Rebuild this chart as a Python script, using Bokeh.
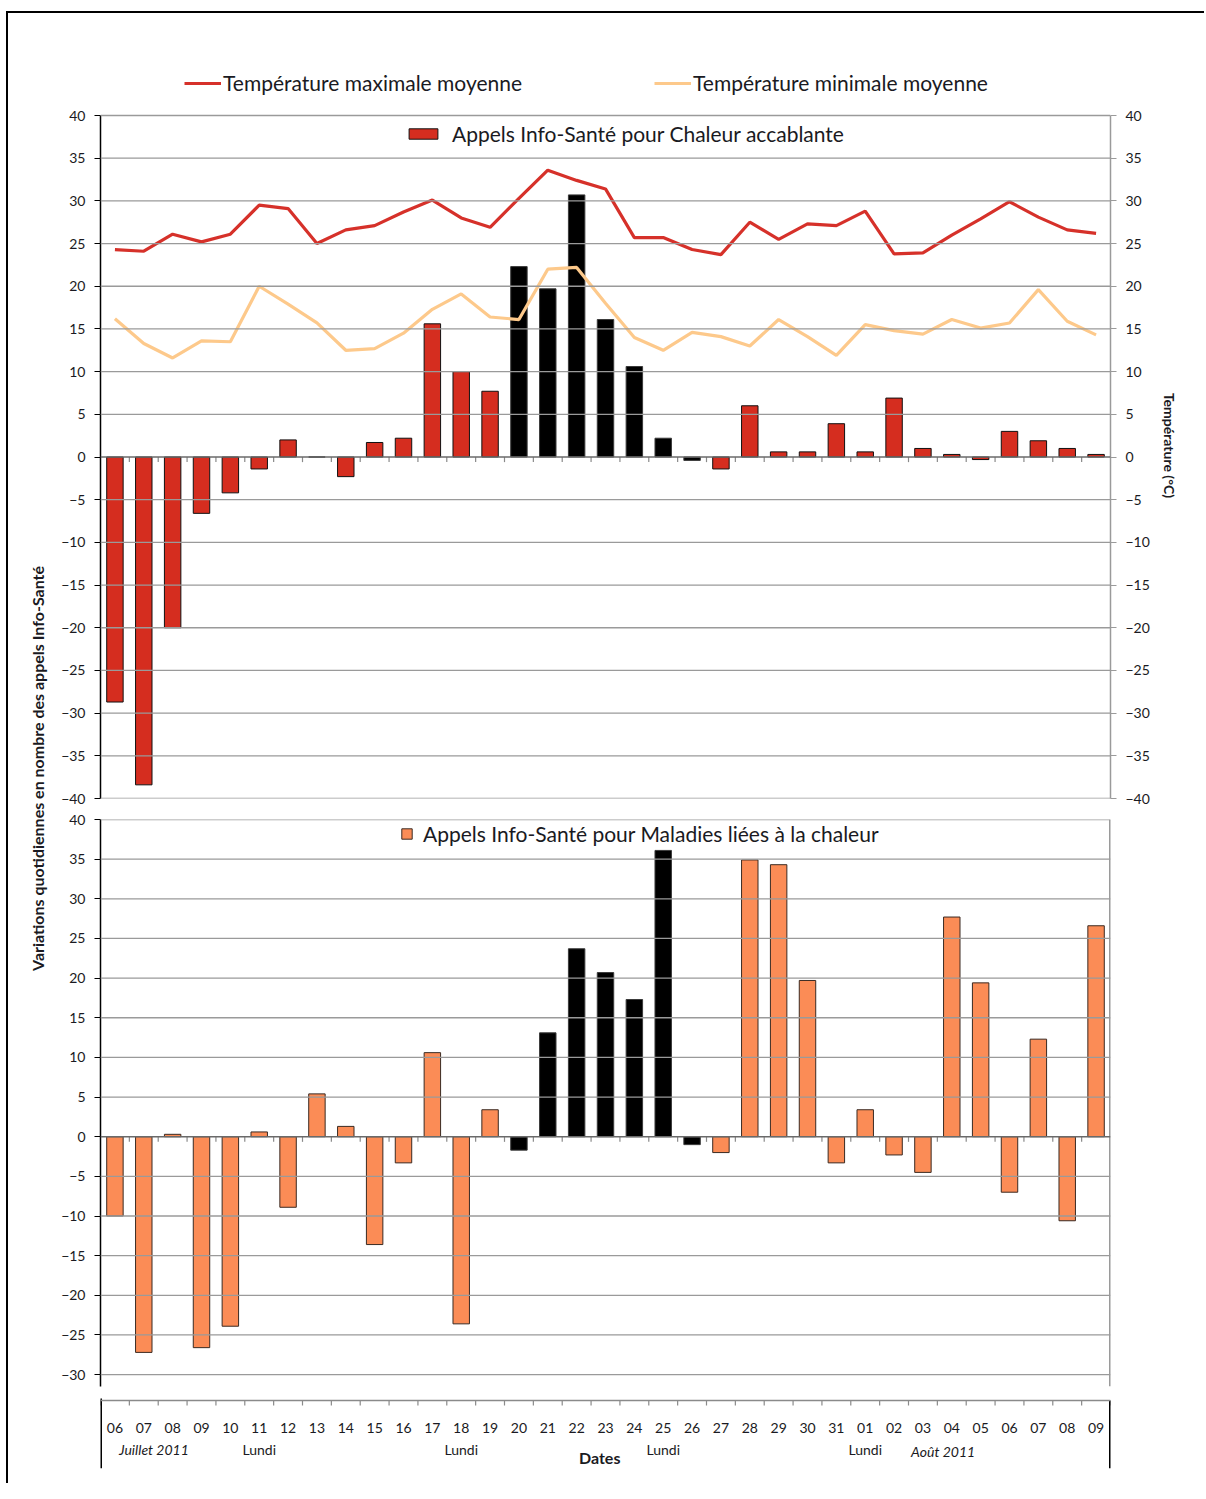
import numpy as np
from bokeh.plotting import figure
from bokeh.models import (ColumnDataSource, Range1d, LinearAxis, Legend, LegendItem,
                          FixedTicker, Label, Span)
from bokeh.layouts import column, row
from bokeh.embed import file_html
from bokeh.resources import INLINE
from bokeh.core.properties import value

# ---------------- data ----------------
days = ["06", "07", "08", "09", "10", "11", "12", "13", "14", "15", "16", "17", "18",
        "19", "20", "21", "22", "23", "24", "25", "26", "27", "28", "29", "30", "31",
        "01", "02", "03", "04", "05", "06", "07", "08", "09"]
months = ["Juillet"] * 26 + ["Août"] * 9
episode = [("Juillet", d) for d in ["20", "21", "22", "23", "24", "25", "26"]]
lundis = [("Juillet", "11"), ("Juillet", "18"), ("Juillet", "25"), ("Août", "01")]

chaleur = [-28.7, -38.4, -20.0, -6.6, -4.2, -1.4, 2.0, 0.0, -2.3, 1.7, 2.2, 15.6, 10.0,
           7.7, 22.3, 19.7, 30.7, 16.1, 10.6, 2.2, -0.4, -1.4, 6.0, 0.6, 0.6, 3.9,
           0.6, 6.9, 1.0, 0.3, -0.3, 3.0, 1.9, 1.0, 0.3]
maladies = [-10.0, -27.2, 0.3, -26.6, -23.9, 0.6, -8.9, 5.4, 1.3, -13.6, -3.3, 10.6, -23.6,
            3.4, -1.7, 13.1, 23.7, 20.7, 17.3, 36.1, -1.0, -2.0, 34.9, 34.3, 19.7, -3.3,
            3.4, -2.3, -4.5, 27.7, 19.4, -7.0, 12.3, -10.6, 26.6]
tmax = [24.3, 24.1, 26.1, 25.2, 26.1, 29.5, 29.1, 25.0, 26.6, 27.1, 28.7, 30.1, 28.0,
        26.9, 30.3, 33.6, 32.4, 31.4, 25.7, 25.7, 24.3, 23.7, 27.5, 25.5, 27.3, 27.1,
        28.8, 23.8, 23.9, 26.0, 27.9, 29.9, 28.1, 26.6, 26.2]
tmin = [16.2, 13.3, 11.6, 13.6, 13.5, 20.0, 17.9, 15.7, 12.5, 12.7, 14.5, 17.3, 19.1,
        16.4, 16.1, 22.0, 22.2, 18.0, 14.0, 12.5, 14.6, 14.1, 13.0, 16.1, 14.1, 11.9,
        15.5, 14.8, 14.4, 16.1, 15.1, 15.7, 19.6, 15.9, 14.3]

top_ticks = list(range(-40, 41, 5))
bot_ticks = list(range(-30, 41, 5))

# ---------------- styles ----------------
FONT = "Lato"
RED = "#d52d1f"
RED_LINE = "#d6312a"
ORANGE_LINE = "#fdc98b"
ORANGE_BAR = "#fb8c56"
GRID = "#9a9a9a"
TXT = "#1a1a22"

idx = np.arange(len(days))
is_ep = np.array([(m, d) in episode for m, d in zip(months, days)])
ML, MR = 41, 50
W = ML + 1011 + MR
XR = (-0.5, len(days) - 0.5)


def base_fig(height, top_b, bot_b, y0, y1):
    p = figure(width=W, height=height, x_range=Range1d(*XR), y_range=Range1d(y0, y1),
               output_backend="svg", toolbar_location=None,
               x_axis_location=None, y_axis_location=None,
               min_border_left=ML, min_border_right=MR,
               min_border_top=top_b, min_border_bottom=bot_b)
    p.outline_line_color = None
    p.xgrid.visible = False
    p.ygrid.visible = False
    p.background_fill_color = "white"
    p.border_fill_color = "white"
    return p


def style_axis(ax, ticks, color, label_size="14px"):
    ax.ticker = FixedTicker(ticks=ticks)
    ax.bounds = (min(ticks), max(ticks))
    ax.axis_line_color = color
    ax.axis_line_width = 1.5
    ax.major_tick_line_color = color
    ax.major_tick_line_width = 1.2
    ax.major_tick_out = 6
    ax.major_tick_in = 0
    ax.minor_tick_line_color = None
    ax.major_label_text_font = FONT
    ax.major_label_text_font_size = label_size
    ax.major_label_text_color = TXT
    ax.major_label_standoff = 9


def grid(p, ticks):
    for t in ticks:
        if t == 0:
            continue
        p.add_layout(Span(location=t, dimension="width", line_color=GRID, line_width=1.3))


def zero_axis(p, tick_len):
    p.add_layout(Span(location=0, dimension="width", line_color="#6a6a6a", line_width=1.5))
    b = idx[:-1] + 0.5
    p.segment(x0=b, x1=b, y0=np.zeros(len(b)), y1=np.full(len(b), -tick_len),
              line_color="#8a8a8a", line_width=1.2)


def mk_legend(items, loc, gw, gh, standoff, size="21px"):
    return Legend(items=items, location=loc, orientation="horizontal",
                  glyph_width=gw, glyph_height=gh, label_standoff=standoff,
                  padding=0, margin=0, spacing=0,
                  border_line_color=None, background_fill_alpha=0,
                  label_text_font=FONT, label_text_font_size=size,
                  label_text_color=TXT, label_height=gh)


# ---------------- top chart (frame extends up to hold the legends) ----------------
TOP_H = 795
Y_TOP = 40 + 100 * 80 / 683.0
top = base_fig(TOP_H, 2, 10, -40, Y_TOP)
top.extra_y_ranges = {"temp": Range1d(-40, Y_TOP)}
grid(top, top_ticks)
zero_axis(top, 0.6)

lax = LinearAxis()
style_axis(lax, top_ticks, "#000000")
top.add_layout(lax, "left")
rax = LinearAxis(y_range_name="temp")
style_axis(rax, top_ticks, "#9a9a9a")
top.add_layout(rax, "right")

src_c = ColumnDataSource(dict(x=idx[~is_ep], y=np.array(chaleur)[~is_ep]))
src_ce = ColumnDataSource(dict(x=idx[is_ep], y=np.array(chaleur)[is_ep]))
bar_red = top.vbar(x="x", top="y", width=0.57, source=src_c, fill_color=RED,
                   line_color="#111111", line_width=1)
top.vbar(x="x", top="y", width=0.57, source=src_ce, fill_color="black",
         line_color="#3a3a3a", line_width=1)
l_max = top.line(idx, tmax, y_range_name="temp", line_color=RED_LINE, line_width=3.2)
l_min = top.line(idx, tmin, y_range_name="temp", line_color=ORANGE_LINE, line_width=3.2)

top.add_layout(mk_legend([LegendItem(label="Température maximale moyenne", renderers=[l_max])],
                         (84, 703), 37, 20, 2))
top.add_layout(mk_legend([LegendItem(label="Température minimale moyenne", renderers=[l_min])],
                         (554, 703), 37, 20, 2))
top.add_layout(mk_legend([LegendItem(label="Appels Info-Santé pour Chaleur accablante",
                                     renderers=[bar_red])],
                         (305, 652), 36, 13, 11))

# ---------------- bottom chart ----------------
bot = base_fig(582, 11, 4, -31.5, 40)
grid(bot, bot_ticks)
zero_axis(bot, 0.65)
lax2 = LinearAxis()
style_axis(lax2, bot_ticks, "#000000")
lax2.bounds = (-31.5, 40)
bot.add_layout(lax2, "left")
bot.segment(x0=[XR[1]], x1=[XR[1]], y0=[-31.5], y1=[40], line_color="#9a9a9a", line_width=3)

src_m = ColumnDataSource(dict(x=idx[~is_ep], y=np.array(maladies)[~is_ep]))
src_me = ColumnDataSource(dict(x=idx[is_ep], y=np.array(maladies)[is_ep]))
bar_or = bot.vbar(x="x", top="y", width=0.57, source=src_m, fill_color=ORANGE_BAR,
                  line_color="#3a2a22", line_width=1)
bot.vbar(x="x", top="y", width=0.57, source=src_me, fill_color="black",
         line_color="#3a3a3a", line_width=1)
bot.add_layout(mk_legend([LegendItem(label="Appels Info-Santé pour Maladies liées à la chaleur",
                                     renderers=[bar_or])],
                         (300, 540), 13, 13, 10))

# ---------------- date axis ----------------
axf = base_fig(93, 2, 15, 0, 76)
bnd = np.arange(-0.5, len(days), 1.0)
axf.add_layout(Span(location=68, dimension="width", line_color="#8a8a8a", line_width=1.5))
axf.segment(x0=bnd, x1=bnd, y0=np.full(len(bnd), 68), y1=np.full(len(bnd), 63),
            line_color="#8a8a8a", line_width=1.2)
axf.segment(x0=[XR[0], XR[1]], x1=[XR[0], XR[1]], y0=[0, 0], y1=[70, 68],
            line_color="black", line_width=3)
axf.text(x=idx, y=np.full(len(days), 41), text=days, text_font=value(FONT),
         text_font_size="14px", text_color=TXT, text_align="center", text_baseline="middle")
ldx = [i for i, (m, d) in enumerate(zip(months, days)) if (m, d) in lundis]
axf.text(x=ldx, y=[19] * len(ldx), text=["Lundi"] * len(ldx), text_font=value(FONT),
         text_font_size="14px", text_color=TXT, text_align="center", text_baseline="middle")
j_pos = months.index("Juillet") + 1.35
a_pos = months.index("Août") + 2.7
axf.text(x=[j_pos, a_pos], y=[19, 17], text=["Juillet 2011", "Août 2011"],
         text_font=value(FONT), text_font_style="italic", text_font_size="14px",
         text_color=TXT, text_align="center", text_baseline="middle")
axf.text(x=[16.8], y=[11], text=["Dates"], text_font=value(FONT),
         text_font_style="bold", text_font_size="16px", text_color=TXT,
         text_align="center", text_baseline="middle")

# ---------------- side strips with axis titles ----------------
H = TOP_H + 582 + 93


def strip_fig(width):
    s = figure(width=width, height=H, x_range=Range1d(0, width), y_range=Range1d(0, H),
               output_backend="svg", toolbar_location=None,
               x_axis_location=None, y_axis_location=None,
               min_border_left=0, min_border_right=0, min_border_top=0, min_border_bottom=0)
    s.outline_line_color = None
    s.grid.visible = False
    return s


lstrip = strip_fig(50)
lstrip.add_layout(Label(x=29, y=H - 755,
                        text="Variations quotidiennes en nombre des appels Info-Santé",
                        angle=np.pi / 2, text_align="center", text_baseline="middle",
                        text_font=FONT, text_font_style="bold", text_font_size="16px",
                        text_color=TXT))
rstrip = strip_fig(44)
rstrip.add_layout(Label(x=9, y=H - 432, text="Température (°C)",
                        angle=-np.pi / 2, text_align="center", text_baseline="middle",
                        text_font=FONT, text_font_style="bold", text_font_size="14px",
                        text_color=TXT))

layout = row(lstrip, column(top, bot, axf), rstrip,
             styles={"margin-top": "11px", "margin-left": "6px",
                     "border-top": "2px solid black", "border-left": "2px solid black"})

open("out.html", "w").write(file_html(layout, INLINE))
